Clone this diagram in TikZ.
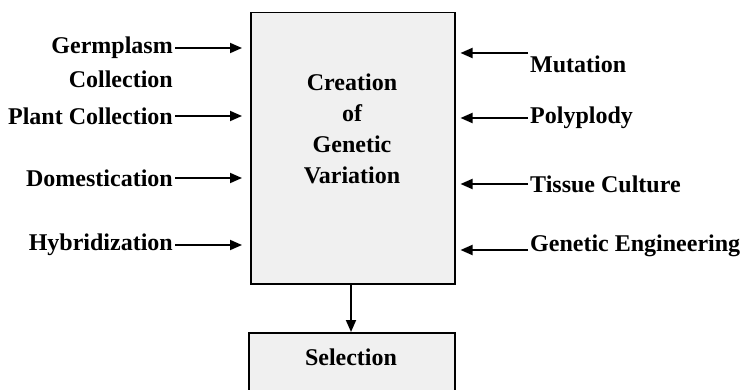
\documentclass[tikz,border=0pt]{standalone}
\usepackage{fontspec}
\setmainfont{Liberation Serif}
\usetikzlibrary{arrows.meta}
\begin{document}
\begin{tikzpicture}[x=1pt,y=-1pt,
  lab/.style={font=\fontsize{24}{27}\selectfont\bfseries, inner sep=2pt},
  boxst/.style={draw, line width=1.5pt, fill=black!6},
  arr/.style={line width=1.8pt, -{Triangle[length=12pt,width=10pt]}}]
\useasboundingbox (0,0) rectangle (743,390);
\clip (0,0) rectangle (743,390);
\node[boxst, minimum width=204pt, minimum height=271pt, anchor=north west] (main) at (250,12) {};
\node[lab, align=center, font=\fontsize{24}{31}\selectfont\bfseries] (mtxt) at (352,129) {Creation\\of\\Genetic\\Variation};
\node[boxst, minimum width=206pt, minimum height=80pt, anchor=north west] (sel) at (248,332) {};
\node[lab] (seltxt) at (351,357) {Selection};
% left labels
\node[lab, anchor=east] (germ) at (175,48) {Germplasm};
\node[lab, anchor=east] (germb) at (175,79) {Collection};
\node[lab, anchor=east] (plant) at (175,116) {Plant Collection};
\node[lab, anchor=east] (dom) at (175,178) {Domestication};
\node[lab, anchor=east] (hyb) at (175,245) {Hybridization};
% right labels
\node[lab, anchor=west] (mut) at (528,64) {Mutation};
\node[lab, anchor=west] (poly) at (528,118) {Polyplody};
\node[lab, anchor=west] (tis) at (528,184) {Tissue Culture};
\node[lab, anchor=west] (gen) at (528,246) {Genetic Engineering};
\coordinate (mutc) at ([yshift=11pt]mut.west);
\coordinate (genc) at ([yshift=-4pt]gen.west);
% left arrows
\foreach \n in {germ,plant,dom,hyb}
  \draw[arr, shorten >=8pt] (\n.east) -- (main.west |- \n.east);
% right arrows
\foreach \n in {mutc,poly,tis,genc}
  \draw[arr, shorten >=5pt] (\n) -- (main.east |- \n);
% down arrow
\draw[arr] (main.south -| seltxt) -- (sel.north -| seltxt);
\end{tikzpicture}
\end{document}
